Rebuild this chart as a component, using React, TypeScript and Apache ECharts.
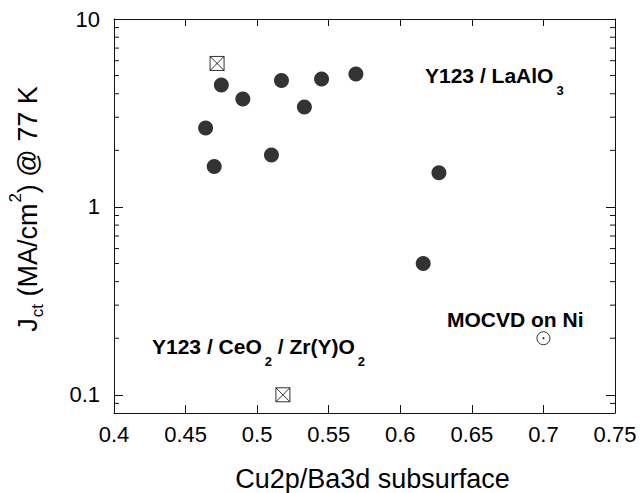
import React, { useEffect, useRef } from "react";
import * as echarts from "echarts";

// ---- data ----
const laAlO3X = [0.464, 0.47, 0.475, 0.49, 0.51, 0.517, 0.533, 0.545, 0.569, 0.616, 0.627];
const laAlO3Y = [2.63, 1.64, 4.45, 3.75, 1.89, 4.7, 3.4, 4.8, 5.1, 0.5, 1.52];

const ceO2X = [0.472, 0.518];
const ceO2Y = [5.8, 0.1];

const mocvdX = [0.7];
const mocvdY = [0.2];

const xMin = 0.4;
const xMax = 0.75;
const xStep = 0.05;
const yMin = 0.08;
const yMax = 10;
const yTickLabels = ["0.1", "1", "10"];
const yMinorTicks = [0.09, 0.2, 0.3, 0.4, 0.5, 0.6, 0.7, 0.8, 0.9, 2, 3, 4, 5, 6, 7, 8, 9];

const FONT = "'Liberation Sans', Arial, Helvetica, sans-serif";

const pairs = (xs: number[], ys: number[]) => xs.map((x, i) => [x, ys[i]]);

export default function App() {
  const ref = useRef<HTMLDivElement>(null);

  useEffect(() => {
    if (!ref.current) return;
    const chart = echarts.init(ref.current, null, { renderer: "svg" });

    const axisLine = { show: true, lineStyle: { color: "#111", width: 1 } };
    const tickStyle = { color: "#111", width: 1 };

    const option: any = {
      animation: false,
      backgroundColor: "#fff",
      grid: { left: 114, top: 19, right: 28, bottom: 80, containLabel: false },
      xAxis: [
        {
          type: "value",
          min: xMin,
          max: xMax,
          interval: xStep,
          position: "bottom",
          axisLine,
          axisTick: { show: true, inside: true, length: 8, lineStyle: tickStyle },
          axisLabel: {
            color: "#000",
            fontFamily: FONT,
            fontSize: 22,
            margin: 10,
            formatter: (v: number) => String(Math.round(v * 100) / 100),
          },
          splitLine: { show: false },
        },
        {
          type: "value",
          min: xMin,
          max: xMax,
          interval: xStep,
          position: "top",
          axisLine,
          axisTick: { show: true, inside: true, length: 7, lineStyle: tickStyle },
          axisLabel: { show: false },
          splitLine: { show: false },
        },
      ],
      yAxis: [
        {
          type: "log",
          logBase: 10,
          min: yMin,
          max: yMax,
          position: "left",
          axisLine,
          axisTick: { show: true, inside: true, length: 9, lineStyle: tickStyle },
          axisLabel: {
            color: "#000",
            fontFamily: FONT,
            fontSize: 22,
            margin: 14,
            formatter: (v: number) => {
              const hit = yTickLabels.find((t) => Math.abs(parseFloat(t) - v) < 1e-9);
              return hit ?? "";
            },
          },
          splitLine: { show: false },
        },
        {
          type: "log",
          logBase: 10,
          min: yMin,
          max: yMax,
          position: "right",
          axisLine,
          axisTick: { show: true, inside: true, length: 9, lineStyle: tickStyle },
          axisLabel: { show: false },
          splitLine: { show: false },
        },
      ],
      series: [
        {
          type: "custom",
          silent: true,
          clip: false,
          data: yMinorTicks.map((v) => [xMin, v]),
          encode: { x: 0, y: 1 },
          renderItem: (_p: any, api: any) => {
            const v = api.value(1);
            const l = api.coord([xMin, v]);
            const r = api.coord([xMax, v]);
            return {
              type: "group",
              children: [
                { type: "line", shape: { x1: l[0], y1: l[1], x2: l[0] + 5, y2: l[1] }, style: { stroke: "#111", lineWidth: 1 } },
                { type: "line", shape: { x1: r[0] - 5, y1: r[1], x2: r[0], y2: r[1] }, style: { stroke: "#111", lineWidth: 1 } },
              ],
            };
          },
        },
        {
          name: "Y123 / LaAlO3",
          type: "scatter",
          symbol: "circle",
          symbolSize: 15,
          itemStyle: { color: "#000" },
          data: pairs(laAlO3X, laAlO3Y),
        },
        {
          name: "Y123 / CeO2 / Zr(Y)O2",
          type: "scatter",
          symbol: "path://M0,0L10,0L10,10L0,10Z M0,0L10,10 M10,0L0,10",
          symbolSize: 14,
          itemStyle: { color: "#fff", borderColor: "#000", borderWidth: 1 },
          data: pairs(ceO2X, ceO2Y),
        },
        {
          name: "MOCVD on Ni",
          type: "scatter",
          symbol: "circle",
          symbolSize: 13,
          itemStyle: { color: "#fff", borderColor: "#000", borderWidth: 1 },
          data: pairs(mocvdX, mocvdY),
        },
        {
          name: "MOCVD on Ni dot",
          type: "scatter",
          symbol: "circle",
          symbolSize: 2,
          itemStyle: { color: "#000" },
          data: pairs(mocvdX, mocvdY),
        },
      ],
      graphic: [
        {
          type: "text",
          x: 425,
          y: 75.5,
          style: {
            text: "{m|Y123 / LaAlO}{s|3}",
            textAlign: "left",
            textVerticalAlign: "middle",
            rich: {
              m: { fontFamily: FONT, fontWeight: "bold", fontSize: 21, lineHeight: 24, fill: "#000" },
              s: { fontFamily: FONT, fontWeight: "bold", fontSize: 13, lineHeight: 13, padding: [30, 0, 0, 3], fill: "#000" },
            },
          },
        },
        {
          type: "text",
          x: 152,
          y: 346.5,
          style: {
            text: "{m|Y123 / CeO}{s|2}{m| / Zr(Y)O}{s|2}",
            textAlign: "left",
            textVerticalAlign: "middle",
            rich: {
              m: { fontFamily: FONT, fontWeight: "bold", fontSize: 21, lineHeight: 24, fill: "#000" },
              s: { fontFamily: FONT, fontWeight: "bold", fontSize: 13, lineHeight: 13, padding: [29, 0, 0, 3], fill: "#000" },
            },
          },
        },
        {
          type: "text",
          x: 447,
          y: 319.5,
          style: {
            text: "MOCVD on Ni",
            textAlign: "left",
            textVerticalAlign: "middle",
            fontFamily: FONT,
            fontWeight: "bold",
            fontSize: 21,
            fill: "#000",
          },
        },
        {
          type: "text",
          x: 372.5,
          y: 479,
          style: {
            text: "Cu2p/Ba3d subsurface",
            textAlign: "center",
            textVerticalAlign: "middle",
            fontFamily: FONT,
            fontSize: 27,
            lineHeight: 27,
            fill: "#000",
          },
        },
        {
          type: "text",
          x: 27.5,
          y: 209,
          rotation: Math.PI / 2,
          style: {
            text: "{m|J}{s|ct}{m| (MA/cm}{p|2}{m|) @ 77 K}",
            textAlign: "center",
            textVerticalAlign: "middle",
            rich: {
              m: { fontFamily: FONT, fontSize: 27, lineHeight: 30, fill: "#000" },
              s: { fontFamily: FONT, fontSize: 17, lineHeight: 17, padding: [20, 0, 0, 1], fill: "#000" },
              p: { fontFamily: FONT, fontSize: 17, lineHeight: 17, padding: [0, 0, 25, 1], fill: "#000" },
            },
          },
        },
      ],
    };

    chart.setOption(option);
    return () => chart.dispose();
  }, []);

  return (
    <div
      ref={ref}
      style={{ position: "absolute", left: 0, top: 0, width: 643, height: 493, background: "#fff" }}
    />
  );
}
